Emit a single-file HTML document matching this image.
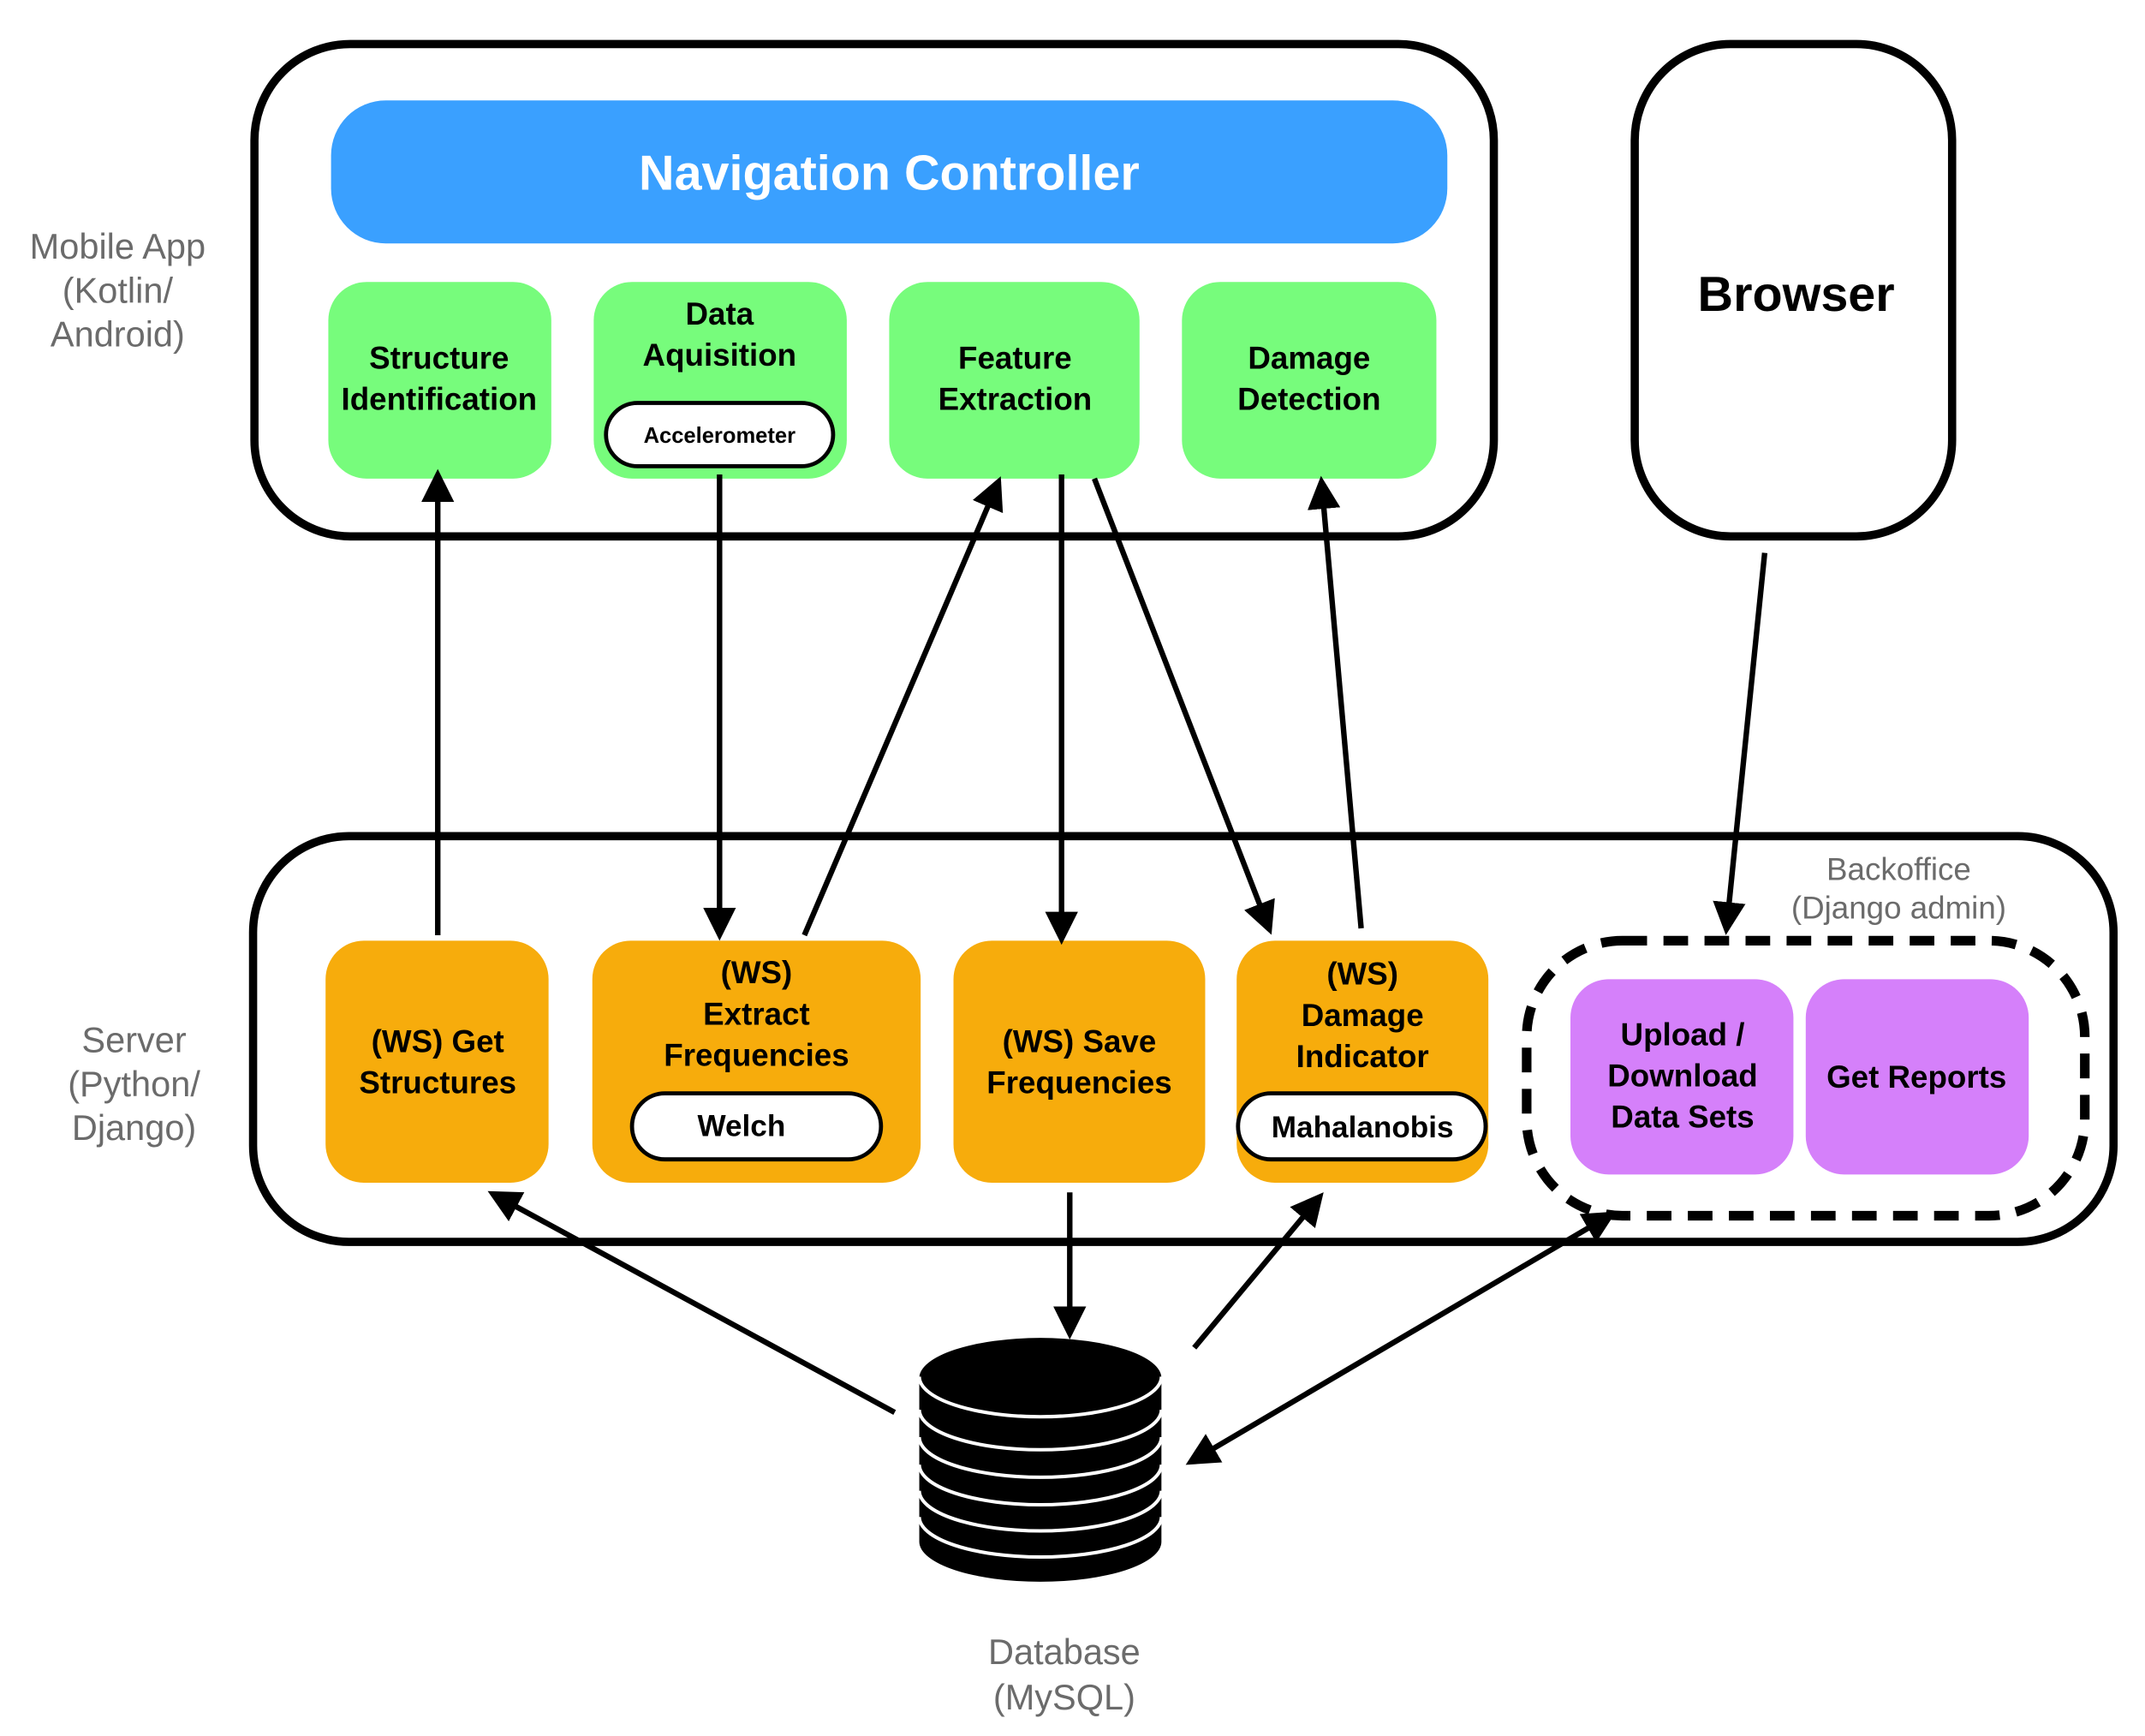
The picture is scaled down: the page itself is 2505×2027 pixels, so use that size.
<!DOCTYPE html>
<html><head><meta charset="utf-8"><style>
html,body{margin:0;padding:0;background:#fff;}
svg{display:block;}
text{font-family:"Liberation Sans",sans-serif;}
.b{font-weight:bold;fill:#000;}
.g{fill:#6b6b6b;font-size:26px;}
</style></head><body>
<svg width="2505" height="2027" viewBox="0 0 1568 1262.3" preserveAspectRatio="none" xmlns="http://www.w3.org/2000/svg">
<defs>
<marker id="ah" markerWidth="6" markerHeight="6" refX="5" refY="3" orient="auto" markerUnits="strokeWidth">
<path d="M0,0 L6,3 L0,6 z" fill="#000"/>
</marker>
<marker id="as" markerWidth="6" markerHeight="6" refX="1" refY="3" orient="auto-start-reverse" markerUnits="strokeWidth">
<path d="M0,0 L6,3 L0,6 z" fill="#000"/>
</marker>
</defs>

<rect x="186" y="32" width="906" height="358" rx="70" fill="#fff" stroke="#000" stroke-width="6"/>
<rect x="242" y="73" width="816" height="104" rx="40" fill="#3aa0ff"/>
<text x="650" y="138" text-anchor="middle" class="b" style="fill:#fff;font-size:36px">Navigation Controller</text>

<g fill="#77fc7c">
<rect x="240" y="205" width="163" height="143" rx="28"/>
<rect x="434" y="205" width="185" height="143" rx="28"/>
<rect x="650" y="205" width="183" height="143" rx="28"/>
<rect x="864" y="205" width="186" height="143" rx="28"/>
</g>
<g class="b" style="font-size:23px" text-anchor="middle">
<text x="321" y="268">Structure</text><text x="321" y="298">Identification</text>
<text x="526" y="236">Data</text><text x="526" y="266">Aquisition</text>
<text x="742" y="268">Feature</text><text x="742" y="298">Extraction</text>
<text x="957" y="268">Damage</text><text x="957" y="298">Detection</text>
</g>
<rect x="443" y="293" width="166" height="46" rx="23" fill="#fff" stroke="#000" stroke-width="3"/>
<text x="526" y="322" text-anchor="middle" class="b" style="font-size:16px">Accelerometer</text>

<text x="86" y="188" text-anchor="middle" class="g">Mobile App</text>
<text x="86" y="220" text-anchor="middle" class="g">(Kotlin/</text>
<text x="86" y="252" text-anchor="middle" class="g">Android)</text>

<rect x="1195" y="32" width="232" height="358" rx="70" fill="#fff" stroke="#000" stroke-width="6"/>
<text x="1313" y="226" text-anchor="middle" class="b" style="font-size:36px">Browser</text>

<rect x="185" y="608" width="1360" height="295" rx="70" fill="#fff" stroke="#000" stroke-width="6"/>
<text x="98" y="765" text-anchor="middle" class="g">Server</text>
<text x="98" y="797" text-anchor="middle" class="g">(Python/</text>
<text x="98" y="829" text-anchor="middle" class="g">Django)</text>

<g fill="#f7ac0c">
<rect x="238" y="684" width="163" height="176" rx="28"/>
<rect x="433" y="684" width="240" height="176" rx="28"/>
<rect x="697" y="684" width="184" height="176" rx="28"/>
<rect x="904" y="684" width="184" height="176" rx="28"/>
</g>
<g class="b" style="font-size:23px" text-anchor="middle">
<text x="320" y="765">(WS) Get</text><text x="320" y="795">Structures</text>
<text x="553" y="715">(WS)</text><text x="553" y="745">Extract</text><text x="553" y="775">Frequencies</text>
<text x="789" y="765">(WS) Save</text><text x="789" y="795">Frequencies</text>
<text x="996" y="716">(WS)</text><text x="996" y="746">Damage</text><text x="996" y="776">Indicator</text>
</g>
<rect x="462" y="795" width="182" height="48" rx="24" fill="#fff" stroke="#000" stroke-width="3"/>
<text x="542" y="826" text-anchor="middle" class="b" style="font-size:22px">Welch</text>
<rect x="905" y="795" width="181" height="48" rx="24" fill="#fff" stroke="#000" stroke-width="3"/>
<text x="996" y="827" text-anchor="middle" class="b" style="font-size:22px">Mahalanobis</text>

<rect x="1116" y="684" width="408" height="200" rx="70" fill="none" stroke="#000" stroke-width="7" stroke-dasharray="18,12"/>
<text x="1388" y="640" text-anchor="middle" class="g" style="font-size:23px">Backoffice</text>
<text x="1388" y="668" text-anchor="middle" class="g" style="font-size:23px">(Django admin)</text>
<g fill="#d580fa">
<rect x="1148" y="712" width="163" height="142" rx="28"/>
<rect x="1320" y="712" width="163" height="142" rx="28"/>
</g>
<g class="b" style="font-size:23px" text-anchor="middle">
<text x="1230" y="760">Upload /</text><text x="1230" y="790">Download</text><text x="1230" y="820">Data Sets</text>
<text x="1401" y="791">Get Reports</text>
</g>

<path d="M672,1002 A88,29 0 0 1 849,1002 L849,1121 A88,29 0 0 1 672,1121 Z" fill="#000"/>
<g fill="none" stroke="#fff" stroke-width="2.5">
<path d="M672,1001 A88,29 0 0 0 849,1001"/>
<path d="M672,1025 A88,29 0 0 0 849,1025"/>
<path d="M672,1045 A88,29 0 0 0 849,1045"/>
<path d="M672,1065 A88,29 0 0 0 849,1065"/>
<path d="M672,1084 A88,29 0 0 0 849,1084"/>
<path d="M672,1103 A88,29 0 0 0 849,1103"/>
</g>
<text x="778" y="1210" text-anchor="middle" class="g">Database</text>
<text x="778" y="1243" text-anchor="middle" class="g">(MySQL)</text>

<g stroke="#000" stroke-width="4" fill="none" marker-end="url(#ah)">
<line x1="320" y1="680" x2="320" y2="345"/>
<line x1="526" y1="345" x2="526" y2="680"/>
<line x1="588" y1="680" x2="730" y2="350"/>
<line x1="776" y1="345" x2="776" y2="683"/>
<line x1="800" y1="348" x2="928" y2="676"/>
<line x1="995" y1="675" x2="966" y2="350"/>
<line x1="1290" y1="402" x2="1262" y2="676"/>
<line x1="654" y1="1027" x2="360" y2="868"/>
<line x1="782" y1="867" x2="782" y2="970"/>
<line x1="873" y1="980" x2="965" y2="870"/>
<line x1="884" y1="1055" x2="1178" y2="883" marker-start="url(#as)"/>
</g>
</svg>
</body></html>
